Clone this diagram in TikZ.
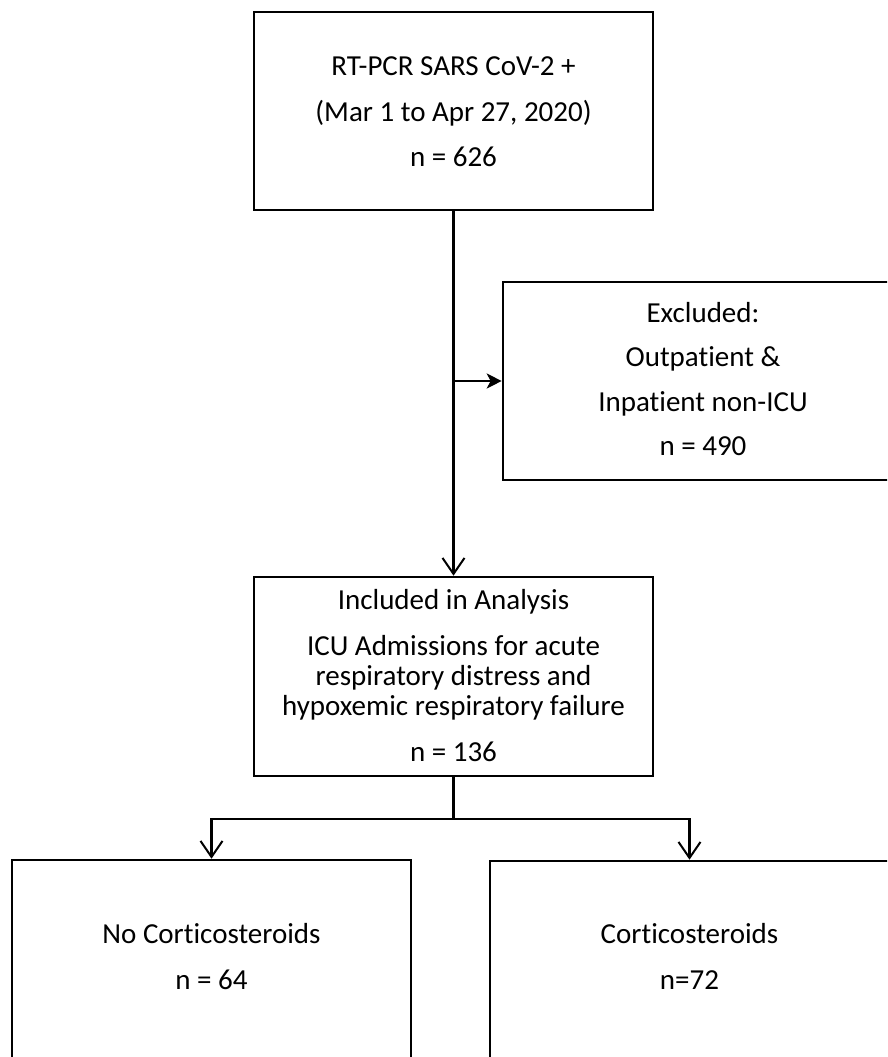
\documentclass[tikz,border=0pt]{standalone}
\usepackage{fontspec}
\setmainfont{Carlito}[Ligatures={NoCommon}]
\usetikzlibrary{arrows.meta}
\begin{document}
\begin{tikzpicture}[x=1pt,y=-1pt,
  box/.style={draw, line width=2.6pt, rectangle, inner sep=0pt, minimum width=399pt},
  txt/.style={font=\fontsize{29}{35}\selectfont, anchor=base, inner sep=0pt},
  conn/.style={line width=2.3pt},
  sidearrow/.style={conn, -{Stealth[length=15pt,width=15pt,inset=4pt]}},
  downarrow/.style={conn, -{Straight Barb[length=16pt,width=22pt,line width=2pt]}}
]
\useasboundingbox (0,0) rectangle (887,1057);
\clip (0,0) rectangle (887,1057);
% boxes
\node[box, minimum height=198pt] (top) at (453.5,111) {};
\node[box, minimum width=400pt, minimum height=198pt] (exc) at (703,381) {};
\node[box, minimum height=199pt] (inc) at (453.5,676.5) {};
\node[box, minimum height=220pt] (left) at (211.5,970) {};
\node[box, minimum height=220pt] (right) at (689.5,971) {};
% texts
\node[txt] (t1) at (453.5,75) {RT-PCR SARS CoV-2 +};
\node[txt] (t2) at (453.5,121) {(Mar 1 to Apr 27, 2020)};
\node[txt] (t3) at (453.5,166) {n = 626};
\node[txt] (e1) at (703,322) {Excluded:};
\node[txt] (e2) at (703,366) {Outpatient \&};
\node[txt] (e3) at (703,411) {Inpatient non-ICU};
\node[txt] (e4) at (703,455) {n = 490};
\node[txt] (i1) at (453.5,609) {Included in Analysis};
\node[txt] (i2) at (453.5,655) {ICU Admissions for acute};
\node[txt] (i3) at (453.5,685) {respiratory distress and};
\node[txt] (i4) at (453.5,715) {hypoxemic respiratory failure};
\node[txt] (i5) at (453.5,761) {n = 136};
\node[txt] (l1) at (211.5,943) {No Corticosteroids};
\node[txt] (l2) at (211.5,989) {n = 64};
\node[txt] (r1) at (689.5,943) {Corticosteroids};
\node[txt] (r2) at (689.5,989) {n=72};
% connectors
\coordinate (j1) at (453.5,381);
\coordinate (br) at (453.5,819);
\draw[downarrow] (top.south) -- (inc.north);
\draw[sidearrow] (j1) -- (exc.west);
\draw[conn] (inc.south) -- (br);
\draw[downarrow] (br) -| (left.north);
\draw[downarrow] (br) -| (right.north);
\end{tikzpicture}
\end{document}
